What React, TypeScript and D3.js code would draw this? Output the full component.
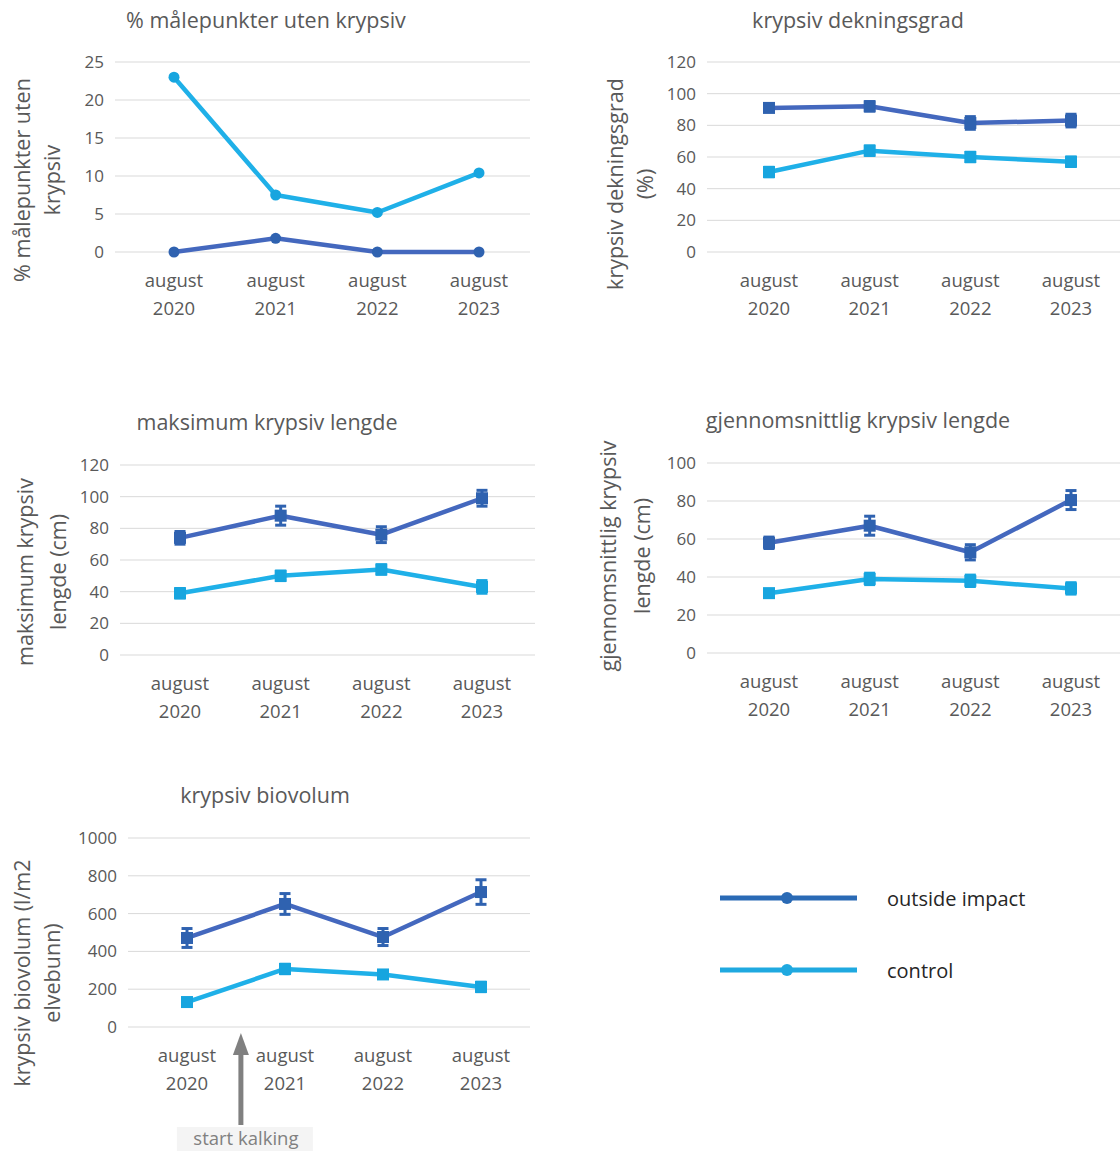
import React from 'react';
import * as d3 from 'd3';

// categories shared by all panels
const categories = ['august 2020', 'august 2021', 'august 2022', 'august 2023'];

// % målepunkter uten krypsiv
const utenOutside = [0, 1.8, 0, 0];
const utenControl = [23, 7.5, 5.2, 10.4];

// krypsiv dekningsgrad (%)
const dekningOutside = [91, 92, 81.5, 83];
const dekningOutsideErr = [2, 3, 4, 4];
const dekningControl = [50.5, 64, 60, 57];
const dekningControlErr = [3, 3, 3, 3];

// maksimum krypsiv lengde (cm)
const maksOutside = [74, 88, 76, 99];
const maksOutsideErr = [4, 6, 5, 5];
const maksControl = [39, 50, 54, 43];
const maksControlErr = [3, 3, 3, 4];

// gjennomsnittlig krypsiv lengde (cm)
const snittOutside = [58, 67, 53, 80.5];
const snittOutsideErr = [3, 5, 4, 5];
const snittControl = [31.5, 39, 38, 34];
const snittControlErr = [2, 3, 3, 3];

// krypsiv biovolum (l/m2 elvebunn)
const bioOutside = [471, 651, 476, 714];
const bioOutsideErr = [50, 55, 45, 65];
const bioControl = [132, 307, 278, 212];
const bioControlErr = [20, 25, 20, 25];

const legendLabels = ['outside impact', 'control'];

const DARK_LINE = '#4468BE';
const DARK_MARK = '#2F62B0';
const LIGHT_LINE = '#1FB0E8';
const LIGHT_MARK = '#17A5DF';
const TEXT = '#595959';
const GRID = '#D9D9D9';
const FONT = '"Open Sans", Lato, sans-serif';

interface Series {
  values: number[];
  err?: number[];
  line: string;
  mark: string;
}

interface PanelProps {
  title: string;
  titleX: number;
  titleY: number;
  yTitle: string[];
  yTitleX: number[];
  yTitleY: number;
  gx: [number, number];
  gy: [number, number]; // [top, bottom]
  cx: [number, number];
  max: number;
  step: number;
  marker: 'circle' | 'square';
  series: Series[];
  children?: React.ReactNode;
}

const Panel: React.FC<PanelProps> = (p) => {
  const x = d3.scalePoint<string>().domain(categories).range(p.cx);
  const y = d3.scaleLinear().domain([0, p.max]).range([p.gy[1], p.gy[0]]);
  const ticks = d3.range(0, p.max + p.step / 2, p.step);
  const line = d3.line<number>()
    .x((_, i) => x(categories[i])!)
    .y(d => y(d));

  return (
    <g>
      <text x={p.titleX} y={p.titleY} dy="0.35em" textAnchor="middle" fontSize={21.5} fill={TEXT}>{p.title}</text>
      {ticks.map(t => (
        <g key={t}>
          <line x1={p.gx[0]} x2={p.gx[1]} y1={y(t)} y2={y(t)} stroke={GRID} strokeWidth={1} />
          <text x={p.gx[0] - 11} y={y(t)} dy="0.35em" textAnchor="end" fontSize={17} fill={TEXT}>{t}</text>
        </g>
      ))}
      {categories.map(c => {
        const [a, b] = c.split(' ');
        return (
          <g key={c}>
            <text x={x(c)} y={p.gy[1] + 29} dy="0.35em" textAnchor="middle" fontSize={18.5} fill={TEXT}>{a}</text>
            <text x={x(c)} y={p.gy[1] + 57} dy="0.35em" textAnchor="middle" fontSize={18.5} fill={TEXT}>{b}</text>
          </g>
        );
      })}
      {p.yTitle.map((t, i) => (
        <text key={t} transform={`translate(${p.yTitleX[i]},${p.yTitleY}) rotate(-90)`} dy="0.35em"
          textAnchor="middle" fontSize={21.5} fill={TEXT}>{t}</text>
      ))}
      {p.series.map((s, si) => (
        <g key={si}>
          <path d={line(s.values)!} fill="none" stroke={s.line} strokeWidth={4.5} strokeLinejoin="round" />
          {s.values.map((v, i) => {
            const cxp = x(categories[i])!;
            const e = s.err ? s.err[i] : 0;
            return (
              <g key={i}>
                {s.err && (
                  <g stroke={s.mark} strokeWidth={3}>
                    <line x1={cxp} x2={cxp} y1={y(v - e)} y2={y(v + e)} />
                    <line x1={cxp - 5.5} x2={cxp + 5.5} y1={y(v - e)} y2={y(v - e)} />
                    <line x1={cxp - 5.5} x2={cxp + 5.5} y1={y(v + e)} y2={y(v + e)} />
                  </g>
                )}
                {p.marker === 'circle'
                  ? <circle cx={cxp} cy={y(v)} r={5.5} fill={s.mark} />
                  : <rect x={cxp - 6} y={y(v) - 6} width={12} height={12} fill={s.mark} />}
              </g>
            );
          })}
        </g>
      ))}
      {p.children}
    </g>
  );
};

const App: React.FC = () => {
  const bioX = d3.scalePoint<string>().domain(categories).range([187, 481]);
  const arrowX = bioX(categories[0])! + bioX.step() * 0.55;

  return (
    <svg width={1120} height={1151} style={{ position: 'absolute', left: 0, top: 0, fontFamily: FONT }}>
      <rect width={1120} height={1151} fill="#fff" />

      <Panel title="% målepunkter  uten krypsiv" titleX={266} titleY={20}
        yTitle={['% målepunkter  uten', 'krypsiv']} yTitleX={[22, 52]} yTitleY={180}
        gx={[115, 530]} gy={[62, 252]} cx={[174, 479]} max={25} step={5} marker="circle"
        series={[
          { values: utenOutside, line: DARK_LINE, mark: DARK_MARK },
          { values: utenControl, line: LIGHT_LINE, mark: LIGHT_MARK },
        ]} />

      <Panel title="krypsiv dekningsgrad" titleX={858} titleY={20}
        yTitle={['krypsiv dekningsgrad', '(%)']} yTitleX={[615, 645]} yTitleY={184}
        gx={[707, 1120]} gy={[62, 252]} cx={[769, 1071]} max={120} step={20} marker="square"
        series={[
          { values: dekningOutside, err: dekningOutsideErr, line: DARK_LINE, mark: DARK_MARK },
          { values: dekningControl, err: dekningControlErr, line: LIGHT_LINE, mark: LIGHT_MARK },
        ]} />

      <Panel title="maksimum  krypsiv lengde" titleX={267} titleY={422}
        yTitle={['maksimum krypsiv', 'lengde (cm)']} yTitleX={[25, 58]} yTitleY={572}
        gx={[120, 535]} gy={[465, 655]} cx={[180, 482]} max={120} step={20} marker="square"
        series={[
          { values: maksOutside, err: maksOutsideErr, line: DARK_LINE, mark: DARK_MARK },
          { values: maksControl, err: maksControlErr, line: LIGHT_LINE, mark: LIGHT_MARK },
        ]} />

      <Panel title="gjennomsnittlig krypsiv lengde" titleX={858} titleY={420}
        yTitle={['gjennomsnittlig krypsiv', 'lengde (cm)']} yTitleX={[608, 642]} yTitleY={556}
        gx={[707, 1120]} gy={[463, 653]} cx={[769, 1071]} max={100} step={20} marker="square"
        series={[
          { values: snittOutside, err: snittOutsideErr, line: DARK_LINE, mark: DARK_MARK },
          { values: snittControl, err: snittControlErr, line: LIGHT_LINE, mark: LIGHT_MARK },
        ]} />

      <Panel title="krypsiv biovolum" titleX={265} titleY={795}
        yTitle={['krypsiv biovolum  (l/m2', 'elvebunn)']} yTitleX={[22, 52]} yTitleY={973}
        gx={[128, 530]} gy={[838, 1027]} cx={[187, 481]} max={1000} step={200} marker="square"
        series={[
          { values: bioOutside, err: bioOutsideErr, line: DARK_LINE, mark: DARK_MARK },
          { values: bioControl, err: bioControlErr, line: LIGHT_LINE, mark: LIGHT_MARK },
        ]}>
        <g>
          <line x1={arrowX} x2={arrowX} y1={1125} y2={1052} stroke="#808080" strokeWidth={5} />
          <path d={`M${arrowX},1033 L${arrowX - 8},1055 L${arrowX + 8},1055 Z`} fill="#808080" />
          <rect x={arrowX - 64} y={1127} width={136} height={24} fill="#F4F4F4" />
          <text x={arrowX + 5} y={1139} dy="0.35em" textAnchor="middle" fontSize={18.5} fill="#808080">start kalking</text>
        </g>
      </Panel>

      {legendLabels.map((l, i) => {
        const ly = 898 + i * 72;
        const col = i === 0 ? '#2A6AB5' : '#1FA9E0';
        return (
          <g key={l}>
            <line x1={720} x2={857} y1={ly} y2={ly} stroke={col} strokeWidth={5} />
            <circle cx={787} cy={ly} r={6} fill={col} />
            <text x={887} y={ly + 1} dy="0.35em" fontSize={20} fill="#262626">{l}</text>
          </g>
        );
      })}
    </svg>
  );
};

export default App;
